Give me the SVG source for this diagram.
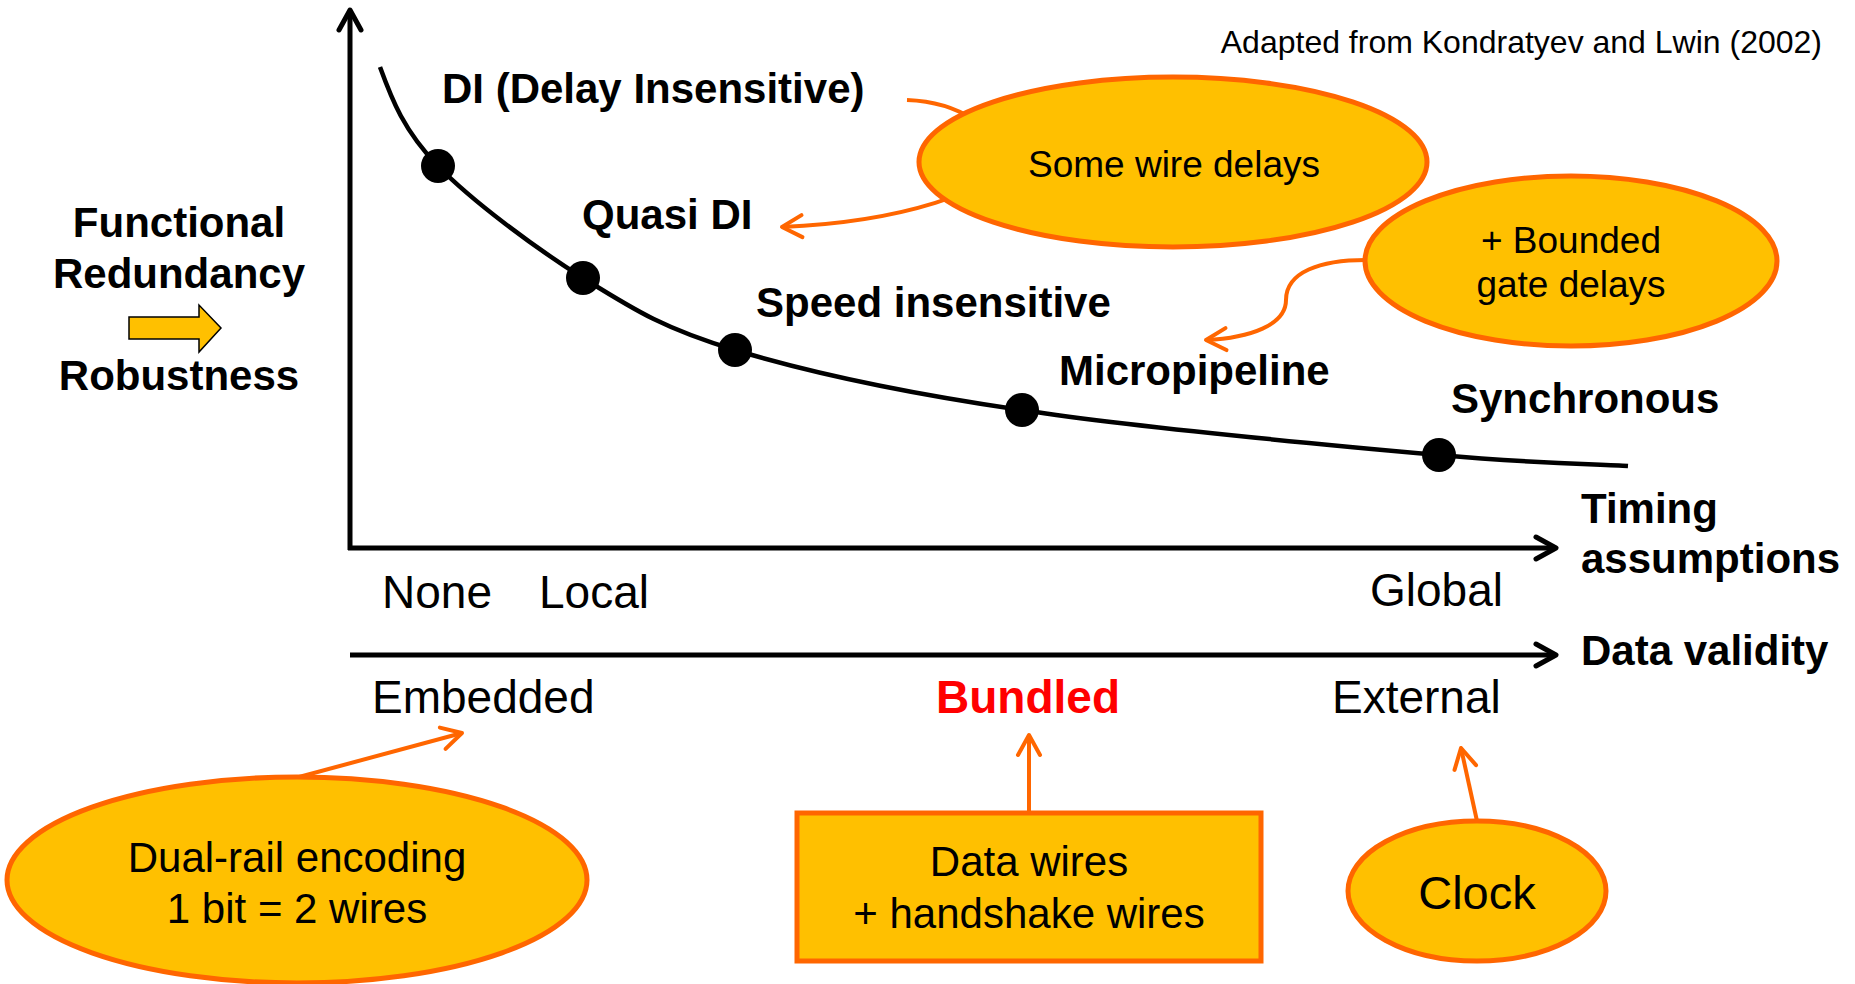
<svg xmlns="http://www.w3.org/2000/svg" width="1855" height="984" viewBox="0 0 1855 984">
<style>
text{font-family:"Liberation Sans",Arial,Helvetica,sans-serif;fill:#000}
.b{font-weight:bold;font-size:42px}
.r{font-size:46px}
.ell{fill:#FFC000;stroke:#FF6600;stroke-width:5}
.conn{fill:none;stroke:#FF6600;stroke-width:4}
.axis{fill:none;stroke:#000;stroke-width:5}
.dot{fill:#000}
</style>
<defs>
<marker id="ao" markerUnits="userSpaceOnUse" markerWidth="26" markerHeight="26" viewBox="0 0 26 26" refX="22" refY="13" orient="auto" overflow="visible">
<path d="M2,2 L22,13 L2,24" fill="none" stroke="#FF6600" stroke-width="4" stroke-linecap="round" stroke-linejoin="round"/>
</marker>
<marker id="ab" markerUnits="userSpaceOnUse" markerWidth="26" markerHeight="26" viewBox="0 0 26 26" refX="22" refY="13" orient="auto" overflow="visible">
<path d="M2,2 L22,13 L2,24" fill="none" stroke="#000" stroke-width="5" stroke-linecap="round" stroke-linejoin="round"/>
</marker>
</defs>
<rect width="1855" height="984" fill="#fff"/>

<g id="axes">
<path class="axis" d="M350,550 L350,10" marker-end="url(#ab)"/>
<path class="axis" d="M348,548 L1556,548" marker-end="url(#ab)"/>
<path class="axis" d="M350,655 L1556,655" marker-end="url(#ab)"/>
</g>

<g id="curve">
<path d="M380,67 C392,100 404,131 438,166 C472,201 534,247 583,278 C633,309 662,328 735,350 C808,372 905,393 1022,410 C1139,428 1338,446 1439,455 C1540,464 1597,464 1628,466" fill="none" stroke="#000" stroke-width="4.5"/>
<circle class="dot" cx="438" cy="166" r="17"/>
<circle class="dot" cx="583" cy="278" r="17"/>
<circle class="dot" cx="735" cy="350" r="17"/>
<circle class="dot" cx="1022" cy="410" r="17"/>
<circle class="dot" cx="1439" cy="455" r="17"/>
</g>

<g id="connectors">
<path class="conn" d="M907,100 C960,102 1000,130 1000,160 C1000,190 900,222 782,227" marker-end="url(#ao)"/>
<path class="conn" d="M1366,260 C1320,260 1286,272 1286,300 C1286,325 1250,338 1206,340" marker-end="url(#ao)"/>
<path class="conn" d="M299,777 L462,733" marker-end="url(#ao)"/>
<path class="conn" d="M1029,812 L1029,735" marker-end="url(#ao)"/>
<path class="conn" d="M1477,821 L1461,748" marker-end="url(#ao)"/>
</g>

<g id="source">
<text x="1822" y="53" font-size="32" text-anchor="end">Adapted from Kondratyev and Lwin (2002)</text>
</g>

<g id="yaxis-label">
<text class="b" x="179" y="237" text-anchor="middle">Functional</text>
<text class="b" x="179" y="288" text-anchor="middle">Redundancy</text>
<polygon points="129,317 199,317 199,305 221,328 199,352 199,339 129,339" fill="#FFC000" stroke="#000" stroke-width="1.5"/>
<text class="b" x="179" y="390" text-anchor="middle">Robustness</text>
</g>

<g id="label-di"><text class="b" x="442" y="103">DI (Delay Insensitive)</text></g>
<g id="label-qdi"><text class="b" x="582" y="229">Quasi DI</text></g>
<g id="label-si"><text class="b" x="756" y="317">Speed insensitive</text></g>
<g id="label-mp"><text class="b" x="1059" y="385">Micropipeline</text></g>
<g id="label-sync"><text class="b" x="1451" y="413">Synchronous</text></g>

<g id="label-timing">
<text class="b" x="1581" y="523">Timing</text>
<text class="b" x="1581" y="573">assumptions</text>
</g>
<g id="label-validity"><text class="b" x="1581" y="665">Data validity</text></g>

<g id="tick-none"><text class="r" x="382" y="608">None</text></g>
<g id="tick-local"><text class="r" x="539" y="608">Local</text></g>
<g id="tick-global"><text class="r" x="1370" y="606">Global</text></g>
<g id="tick-embedded"><text class="r" x="372" y="713">Embedded</text></g>
<g id="tick-bundled"><text class="r" x="1028" y="713" text-anchor="middle" font-weight="bold" style="fill:#FF0000">Bundled</text></g>
<g id="tick-external"><text class="r" x="1332" y="713">External</text></g>

<g id="node-wire">
<ellipse class="ell" cx="1173" cy="162" rx="254" ry="85"/>
<text x="1174" y="177" font-size="37" text-anchor="middle">Some wire delays</text>
</g>
<g id="node-gate">
<ellipse class="ell" cx="1571" cy="261" rx="206" ry="85"/>
<text x="1571" y="253" font-size="37" text-anchor="middle">+ Bounded</text>
<text x="1571" y="297" font-size="37" text-anchor="middle">gate delays</text>
</g>
<g id="node-dualrail">
<ellipse class="ell" cx="297" cy="880" rx="290" ry="103"/>
<text x="297" y="872" font-size="42" text-anchor="middle">Dual-rail encoding</text>
<text x="297" y="923" font-size="42" text-anchor="middle">1 bit = 2 wires</text>
</g>
<g id="node-handshake">
<rect class="ell" x="797" y="813" width="464" height="148"/>
<text x="1029" y="876" font-size="42" text-anchor="middle">Data wires</text>
<text x="1029" y="928" font-size="42" text-anchor="middle">+ handshake wires</text>
</g>
<g id="node-clock">
<ellipse class="ell" cx="1477" cy="891" rx="129" ry="70"/>
<text x="1477" y="909" font-size="47" text-anchor="middle">Clock</text>
</g>
</svg>
